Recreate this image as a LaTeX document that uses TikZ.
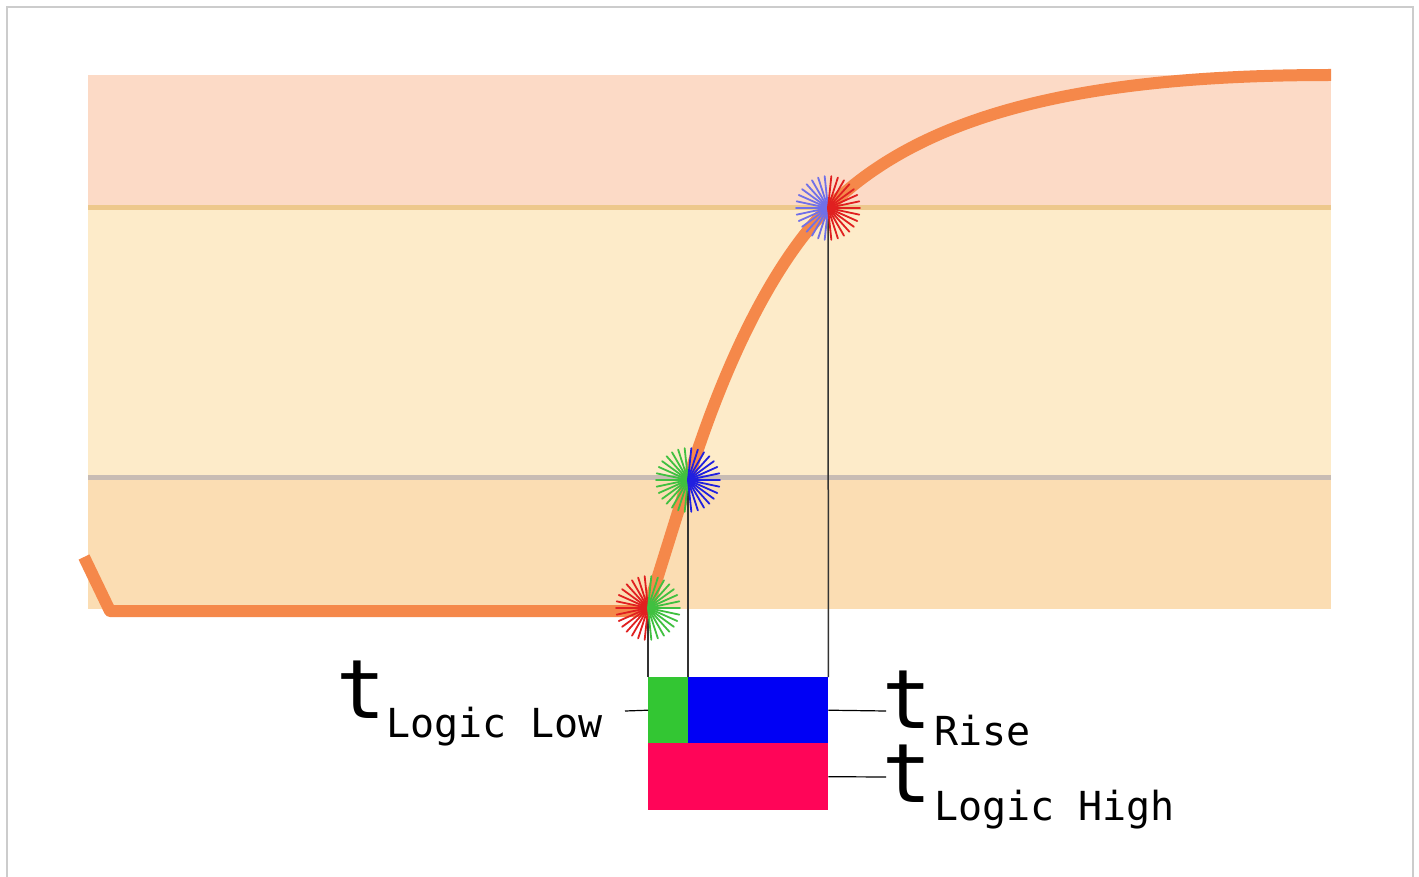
\documentclass[tikz,border=0pt]{standalone}
\usepackage{fontspec}
\newfontfamily\monof{DejaVu Sans Mono}
\definecolor{bandtop}{HTML}{FCDAC6}
\definecolor{bandmid}{HTML}{FDEBC9}
\definecolor{bandlow}{HTML}{FBDDB3}
\definecolor{linehigh}{HTML}{EDC88C}
\definecolor{linelow}{HTML}{C8BCB4}
\definecolor{curvecol}{HTML}{F5884A}
\definecolor{framecol}{HTML}{CCCCCC}
\definecolor{boxgreen}{HTML}{33C633}
\definecolor{boxblue}{HTML}{0000F5}
\definecolor{boxpink}{HTML}{FF0558}
\definecolor{rayred}{HTML}{E02020}
\definecolor{raygreen}{HTML}{40C040}
\definecolor{rayblue}{HTML}{2020E0}
\definecolor{rayviolet}{HTML}{7070E8}
\newcommand\mystarburst[3]{%
  \foreach \a in {96,108,...,264}{\draw[raystyle,#2] (#1) -- ++(\a:32);}
  \foreach \a in {-84,-72,...,84}{\draw[raystyle,#3] (#1) -- ++(\a:32);}
}
\begin{document}
\begin{tikzpicture}[x=1pt,y=-1pt,
  raystyle/.style={line width=1.8pt, line cap=round},
  guide/.style={draw=black!80, line width=1.5pt},
  lead/.style={draw=black, line width=1.2pt},
  bigt/.style={inner sep=0pt, anchor=base west, font=\monof\fontsize{82}{82}\selectfont},
  subt/.style={inner sep=0pt, anchor=base west, font=\monof\fontsize{40}{40}\selectfont},
  box/.style={draw=none}]
\useasboundingbox (0,0) rectangle (1419,877);
% frame
\draw[framecol, line width=2pt] (6.5,877) -- (6.5,7) -- (1412.5,7) -- (1412.5,877);
% bands
\fill[bandtop] (88,75) rectangle (1331,208);
\fill[bandmid] (88,208) rectangle (1331,477);
\fill[bandlow] (88,477) rectangle (1331,609);
\draw[linehigh, line width=5pt] (88,208) -- (1331,208);
\draw[linelow, line width=5pt] (88,477) -- (1331,477);
% key points
\coordinate (p1) at (648,608);
\coordinate (p2) at (688,480);
\coordinate (p3) at (828,208);
% curve
\draw[curvecol, line width=12pt, line join=round] (84,557) -- (110,611) -- (636,611)
  .. controls (644,611) and (646,606) .. (p1)
  -- (p2)
  .. controls (728,352) and (778,258) .. (p3)
  .. controls (928,108) and (1100,75) .. (1331,75);
% boxes
\node[box, fill=boxgreen, minimum width=40pt, minimum height=66pt, inner sep=0pt, anchor=north west] (bl) at (648,677) {};
\node[box, fill=boxblue, minimum width=140pt, minimum height=66pt, inner sep=0pt, anchor=north west] (br) at (688,677) {};
\node[box, fill=boxpink, minimum width=180pt, minimum height=67pt, inner sep=0pt, anchor=north west] (bh) at (648,743) {};
% guide lines
\draw[guide] (p1) -- (bl.north west);
\draw[guide] (p2) -- (br.north west);
\draw[guide] (p3) -- (br.north east);
% starbursts
\mystarburst{p1}{rayred}{raygreen}
\mystarburst{p2}{raygreen}{rayblue}
\mystarburst{p3}{rayviolet}{rayred}
% labels
\node[bigt] (t1) at (336,718) {t};
\node[subt] (s1) at (386,737) {Logic Low};
\node[bigt] (t2) at (882,728) {t};
\node[subt] (s2) at (934,745) {Rise};
\node[bigt] (t3) at (882,802) {t};
\node[subt] (s3) at (934,820) {Logic High};
\coordinate (c1) at (625,711);
\coordinate (c2) at (886,711);
\coordinate (c3) at (886,777);
\draw[lead] (c1) -- (bl.west);
\draw[lead] (br.east) -- (c2);
\draw[lead] (bh.east) -- (c3);
\end{tikzpicture}
\end{document}
